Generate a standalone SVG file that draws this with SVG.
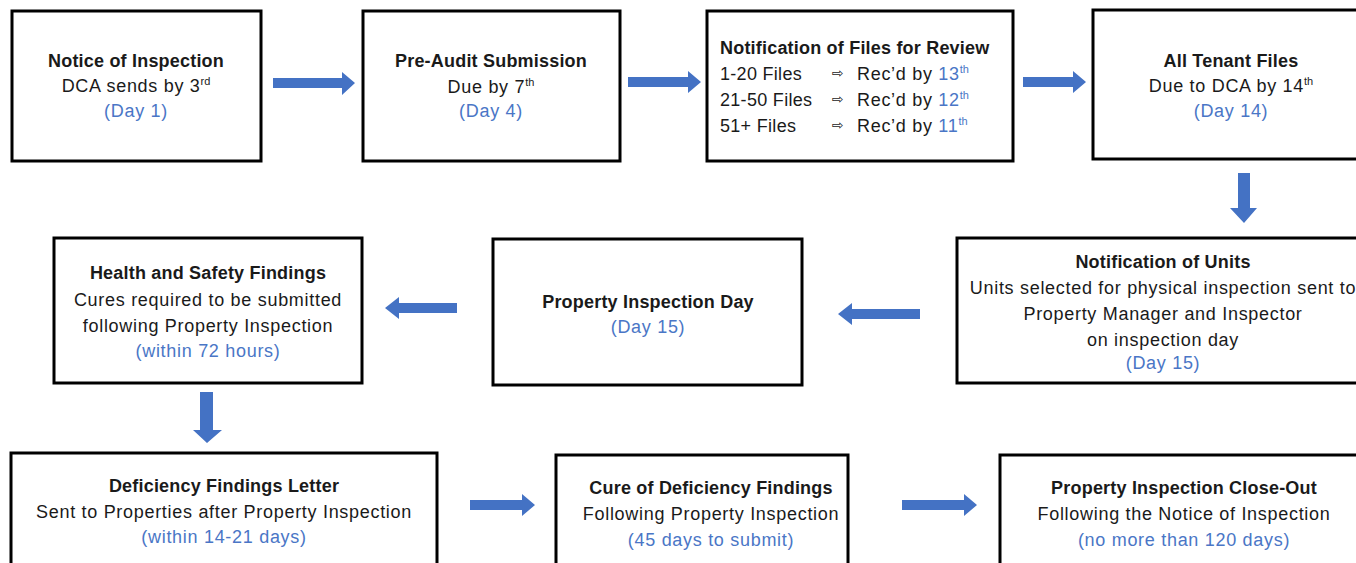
<svg xmlns="http://www.w3.org/2000/svg" width="1356" height="563" viewBox="0 0 1356 563">
<defs>
<style>
.box{fill:#fff;stroke:#000;stroke-width:3}
text{font-family:"Liberation Sans",Arial,sans-serif;font-size:18px;letter-spacing:0.7px;fill:#1a1a1a;text-anchor:middle}
.b{font-weight:bold;letter-spacing:0.2px}
.blue{fill:#4a76c6}
.sup{font-size:11px;letter-spacing:0}
.arr{fill:#4472c4}
.l{text-anchor:start}
.ar{font-family:"DejaVu Sans",sans-serif;font-size:14px}
</style>
</defs>
<rect width="1356" height="563" fill="#fff"/>
<g id="n1"><rect class="box" x="12" y="11" width="249" height="150"/>
<text x="136" y="67" class="b">Notice of Inspection</text>
<text x="136" y="92">DCA sends by 3<tspan class="sup" dy="-7">rd</tspan></text>
<text x="136" y="117" class="blue">(Day 1)</text></g>
<g id="n2"><rect class="box" x="363" y="11" width="257" height="150"/>
<text x="491" y="67" class="b">Pre-Audit Submission</text>
<text x="491" y="93">Due  by 7<tspan class="sup" dy="-7">th</tspan></text>
<text x="491" y="117" class="blue">(Day 4)</text></g>
<g id="n3"><rect class="box" x="707" y="11" width="306" height="150"/>
<text x="720" y="54" class="b l">Notification of Files for Review</text>
<text x="720" y="80" class="l" style="letter-spacing:0.3px">1-20 Files</text>
<text x="720" y="106" class="l" style="letter-spacing:0.3px">21-50 Files</text>
<text x="720" y="132" class="l" style="letter-spacing:0.3px">51+ Files</text>
<text x="832" y="78" class="l ar">⇨</text>
<text x="832" y="104" class="l ar">⇨</text>
<text x="832" y="130" class="l ar">⇨</text>
<text x="857" y="80" class="l">Rec’d by <tspan class="blue">13</tspan><tspan class="blue sup" dy="-7">th</tspan></text>
<text x="857" y="106" class="l">Rec’d by <tspan class="blue">12</tspan><tspan class="blue sup" dy="-7">th</tspan></text>
<text x="857" y="132" class="l">Rec’d by <tspan class="blue">11</tspan><tspan class="blue sup" dy="-7">th</tspan></text></g>
<g id="n4"><rect class="box" x="1093" y="10" width="280" height="149"/>
<text x="1231" y="67" class="b">All Tenant Files</text>
<text x="1231" y="92">Due to DCA by 14<tspan class="sup" dy="-7">th</tspan></text>
<text x="1231" y="117" class="blue">(Day 14)</text></g>
<g id="n5"><rect class="box" x="957" y="238" width="416" height="145"/>
<text x="1163" y="268" class="b">Notification of Units</text>
<text x="1163" y="294">Units selected for physical inspection sent to</text>
<text x="1163" y="320">Property Manager and Inspector</text>
<text x="1163" y="346">on inspection day</text>
<text x="1163" y="369" class="blue">(Day 15)</text></g>
<g id="n6"><rect class="box" x="493" y="239" width="309" height="146"/>
<text x="648" y="308" class="b">Property Inspection Day</text>
<text x="648" y="333" class="blue">(Day 15)</text></g>
<g id="n7"><rect class="box" x="54" y="238" width="308" height="145"/>
<text x="208" y="279" class="b">Health and Safety Findings</text>
<text x="208" y="306">Cures required to be submitted</text>
<text x="208" y="332">following Property Inspection</text>
<text x="208" y="357" class="blue">(within 72 hours)</text></g>
<g id="n8"><rect class="box" x="11" y="453" width="426" height="130"/>
<text x="224" y="492" class="b">Deficiency Findings Letter</text>
<text x="224" y="518">Sent to Properties after Property Inspection</text>
<text x="224" y="543" class="blue">(within 14-21  days)</text></g>
<g id="n9"><rect class="box" x="556" y="455" width="292" height="130"/>
<text x="711" y="494" class="b">Cure of Deficiency  Findings</text>
<text x="711" y="520">Following Property Inspection</text>
<text x="711" y="546" class="blue">(45 days to submit)</text></g>
<g id="n10"><rect class="box" x="1000" y="455" width="373" height="130"/>
<text x="1184" y="494" class="b">Property Inspection Close-Out</text>
<text x="1184" y="520">Following the Notice of Inspection</text>
<text x="1184" y="546" class="blue">(no more than 120 days)</text></g>
<g id="connectors">
<polygon class="arr" points="273,78 342,78 342,72 355,83 342,95 342,88 273,88"/>
<polygon class="arr" points="628,77 688,77 688,71 701,82 688,93 688,87 628,87"/>
<polygon class="arr" points="1023,77 1073,77 1073,71 1086,82 1073,93 1073,87 1023,87"/>
<polygon class="arr" points="1238,173 1250,173 1250,208 1257,208 1244,223 1230,208 1238,208"/>
<polygon class="arr" points="920,309 852,309 852,303 838,314 852,325 852,319 920,319"/>
<polygon class="arr" points="457,303 399,303 399,297 385,308 399,319 399,313 457,313"/>
<polygon class="arr" points="200,392 213,392 213,430 222,430 207,443 193,430 200,430"/>
<polygon class="arr" points="470,500 522,500 522,494 535,505 522,516 522,510 470,510"/>
<polygon class="arr" points="902,500 964,500 964,494 977,505 964,516 964,510 902,510"/>
</g>
</svg>
